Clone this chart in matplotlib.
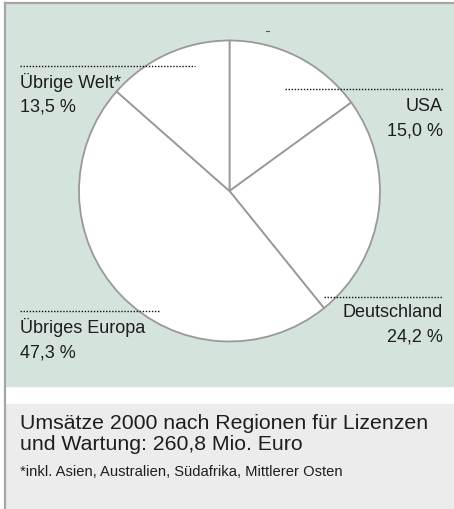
import matplotlib.pyplot as plt
from matplotlib.patches import Rectangle

# Data
regions = ["USA", "Deutschland", "Übriges Europa", "Übrige Welt*"]
shares = [15.0, 24.2, 47.3, 13.5]
share_labels = ["15,0 %", "24,2 %", "47,3 %", "13,5 %"]
title = "Umsätze 2000 nach Regionen für Lizenzen\nund Wartung: 260,8 Mio. Euro"
footnote = "*inkl. Asien, Australien, Südafrika, Mittlerer Osten"

W, H = 454, 510
TEXT = "#1e1e1e"
plt.rcParams["font.family"] = ["Liberation Sans", "DejaVu Sans"]


def Y(y):
    # pixel rows counted from the top
    return H - y


fig = plt.figure(figsize=(W / 100, H / 100), dpi=100)
ax = fig.add_axes([0, 0, 1, 1])

# pie, clockwise from the top
ax.pie(shares, center=(229.5, Y(192)), radius=150.5, startangle=90,
       counterclock=False, colors=["white"] * len(shares),
       wedgeprops=dict(edgecolor="#999999", linewidth=1.3), frame=True)

# panels and border
ax.add_patch(Rectangle((6, Y(387)), W, 382, color="#d5e3dd", zorder=0))
ax.add_patch(Rectangle((6, 0), W, Y(405), color="#ececec", zorder=0))
ax.plot([5, 5], [0, Y(4)], color="#a6a6a6", lw=1.6, zorder=1)
ax.plot([5, W], [Y(4), Y(4)], color="#a6a6a6", lw=1.6, zorder=1)
ax.plot([266, 269], [Y(32), Y(32)], color="#555555", lw=0.8)

# labels: (x, dotted line y, line x range, name baseline, ha)
label_pos = {
    "USA": (443, 90, (285, 443), 111, "right"),
    "Deutschland": (443, 298, (324, 443), 317, "right"),
    "Übriges Europa": (20, 312, (20, 160), 333, "left"),
    "Übrige Welt*": (20, 67, (20, 195), 88, "left"),
}
for name, pct in zip(regions, share_labels):
    x, ly, (x0, x1), yb, ha = label_pos[name]
    ax.plot([x0, x1], [Y(ly), Y(ly)], color="#111111", lw=1.0,
            linestyle=(0, (1, 1.2)), zorder=5)
    ax.text(x, Y(yb), name, ha=ha, va="baseline", fontsize=13, color=TEXT)
    ax.text(x, Y(yb + 24), pct, ha=ha, va="baseline", fontsize=13, color=TEXT)

ax.text(20, Y(429), title.split("\n")[0], ha="left", va="baseline",
        fontsize=15.3, color=TEXT)
ax.text(20, Y(450), title.split("\n")[1], ha="left", va="baseline",
        fontsize=15.3, color=TEXT)
ax.text(20, Y(476), footnote, ha="left", va="baseline", fontsize=10.6,
        color=TEXT)

ax.set_xlim(0, W)
ax.set_ylim(0, H)
ax.set_aspect("equal")
ax.axis("off")

fig.savefig("out.png", dpi=100, facecolor="white")
